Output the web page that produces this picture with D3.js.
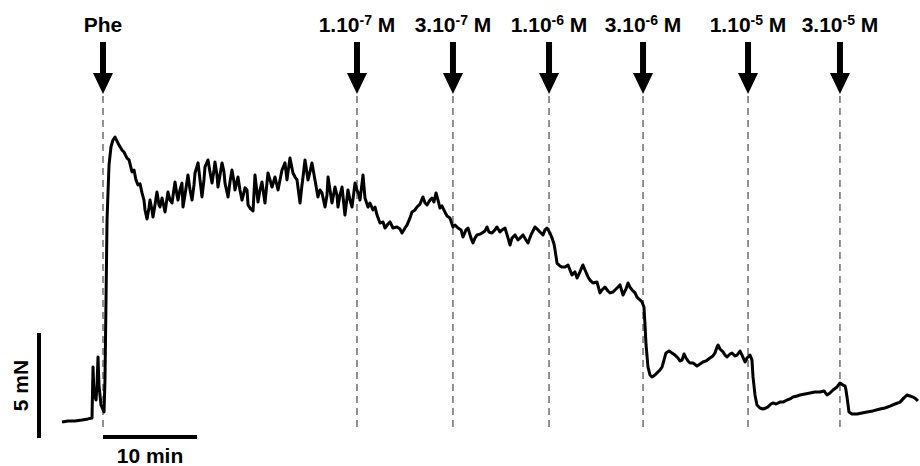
<!DOCTYPE html>
<html>
<head>
<meta charset="utf-8">
<script src="https://cdn.jsdelivr.net/npm/d3@7/dist/d3.min.js"></script>
<style>
  body { margin: 0; background: #fff; }
  svg { display: block; }
  text { font-family: "Liberation Sans", Arial, Helvetica, sans-serif; font-weight: bold; fill: #000; }
</style>
</head>
<body>
<script>
// isometric tension trace, time in min (0 = Phe), force in mN above baseline
const traceTime = [
  -4.36, -3.72, -2.98, -2.23, -1.60, -1.17, -1.06, -0.96, -0.74, -0.64, -0.53, -0.43, -0.21, 0.11, 0.21, 0.32, 0.43, 0.64, 0.85, 1.06,
  1.28, 1.49, 1.70, 2.02, 2.23, 2.55, 2.77, 3.09, 3.30, 3.51, 3.72,
  3.94, 4.15, 4.36, 4.47, 4.68, 4.89, 5.00, 5.21, 5.32, 5.53, 5.74, 5.96, 6.06, 6.28, 6.60, 6.91, 7.13, 7.34, 7.66, 7.87,
  7.98, 8.19, 8.40, 8.51, 8.72, 9.04, 9.26, 9.47, 9.68, 9.79, 10.11, 10.32, 10.53, 10.74, 10.85, 11.17, 11.38, 11.60, 11.81, 11.91,
  12.13, 12.23, 12.45, 12.66, 12.87, 12.98, 13.30, 13.51, 13.72, 13.94, 14.04, 14.36, 14.57, 14.79, 15.11, 15.32, 15.43, 15.64,
  15.96, 16.17, 16.49, 16.70, 16.91, 17.23, 17.55, 17.77, 17.98, 18.30, 18.62, 18.83, 19.04, 19.36, 19.57, 19.89, 20.21, 20.43, 20.64, 20.96,
  21.17, 21.28, 21.49, 21.81, 22.02, 22.23, 22.55, 22.87, 23.09, 23.30, 23.62, 23.83, 23.94, 24.15, 24.36, 24.68, 24.89, 25.00, 25.21, 25.43,
  25.74, 26.06, 26.28, 26.49, 26.81, 27.02, 27.23,
  27.34, 27.66, 27.87, 28.19, 28.40,
  28.72, 28.94, 29.15, 29.47, 29.79, 30.00, 30.32, 30.53, 30.85, 31.28, 31.60, 31.81, 32.13, 32.34, 32.66, 32.87, 33.19, 33.40, 33.72, 34.04,
  34.26, 34.47, 34.79, 35.00, 35.21, 35.43, 35.64, 35.85, 36.06, 36.38, 36.60, 36.91, 37.23, 37.45, 37.77, 38.09, 38.30, 38.62, 38.83, 39.15,
  39.36, 39.57, 39.79, 40.11, 40.32, 40.64, 40.85, 41.06, 41.38, 41.70, 41.91, 42.23, 42.45, 42.77, 43.09, 43.30, 43.51, 43.83, 44.15, 44.36,
  44.68, 45.00, 45.21, 45.53, 45.96, 46.28, 46.49, 46.81, 47.02, 47.23, 47.55, 47.77, 47.98, 48.09, 48.30, 48.62, 48.83, 49.15, 49.47, 49.68,
  49.89, 50.21, 50.43, 50.74, 51.06, 51.28, 51.60, 51.81, 52.13, 52.55, 52.87, 53.09, 53.40, 53.72, 53.94, 54.26, 54.47, 54.79, 55.00, 55.32,
  55.64, 55.85, 56.06, 56.28, 56.60, 56.81, 57.13, 57.34, 57.55, 57.66, 57.77, 57.98, 58.19, 58.40, 58.72, 58.94, 59.26, 59.47, 59.68, 59.89,
  60.21, 60.53, 60.85, 61.17, 61.38, 61.60, 61.81, 62.02, 62.23, 62.45, 62.77, 63.19, 63.51, 63.83, 64.15, 64.57, 64.89, 65.11, 65.32, 65.43,
  65.64, 65.96, 66.17, 66.38, 66.70, 66.91, 67.23, 67.45, 67.77, 67.98, 68.30, 68.51, 68.83, 69.04, 69.15, 69.36, 69.57, 69.89, 70.21, 70.53,
  70.74, 71.06, 71.28, 71.60, 72.02, 72.34, 72.77, 73.09, 73.40, 73.83, 74.15, 74.68, 75.21, 75.74, 76.28, 76.70, 77.02, 77.34, 77.66, 78.09,
  78.40, 78.72, 78.94, 79.04, 79.15, 79.36, 79.68, 80.21, 80.74, 81.28, 81.91, 82.66, 83.19, 83.72, 84.26, 84.79, 85.21, 85.53, 85.85, 86.17,
  86.49, 86.70
];
const traceForce = [
  -0.05, 0, 0, 0.05, 0.10, 0.14, 2.57, 1.24, 1.00, 1.71, 3.05, 1.71, 0.76, 0.43, 1.95, 5.76, 9.57, 12.19, 13.05, 13.38,
  13.52, 13.33, 13.14, 12.90, 12.81, 12.52, 12.43, 11.86, 11.95, 11.48, 11.24,
  11.29, 10.86, 10.52, 10.05, 9.62, 10.14, 10.52, 10.05, 9.71, 10.29, 10.90, 10.29, 10.19, 10.62, 9.95, 10.90, 10.52, 10.38, 11.38, 10.76,
  10.52, 11.00, 11.33, 10.19, 10.76, 11.71, 11.00, 10.52, 11.24, 11.81, 12.29, 11.48, 10.67, 11.48, 12.10, 12.43, 11.86, 11.33, 11.95, 12.33,
  11.71, 11.14, 11.71, 12.29, 11.86, 11.33, 10.67, 11.38, 11.95, 11.38, 11.00, 11.62, 11.00, 10.52, 11.10, 11.00, 10.29, 10.14,
  10.00, 11.71, 10.43, 11.00, 11.38, 10.38, 11.81, 11.48, 11.14, 11.62, 11.00, 11.48, 11.95, 12.29, 11.48, 12.52, 11.81, 11.62, 11.48, 10.38,
  11.24, 11.62, 12.43, 11.48, 11.86, 12.29, 11.48, 10.67, 11.00, 10.86, 10.19, 10.76, 11.62, 11.00, 10.38, 11.14, 10.76, 10.19, 10.76, 11.14,
  9.81, 11.00, 10.52, 10.19, 11.33, 11.00, 10.76,
  10.52, 11.71, 10.62, 10.19, 10.38,
  10.05, 10.19, 9.81, 9.43, 9.48, 9.19, 9.38, 9.48, 9.19, 9.24, 9.14, 8.95, 9.19, 9.33, 9.67, 9.95, 10.05, 10.19, 10.33, 10.67,
  10.38, 10.29, 10.52, 10.62, 10.43, 10.86, 10.52, 10.14, 10.24, 9.95, 9.76, 9.67, 9.24, 9.33, 9.19, 9.10, 8.76, 9.10, 9.19, 8.71,
  8.48, 8.71, 8.86, 8.90, 8.95, 9.05, 9.24, 9.00, 8.95, 9.10, 9.24, 9.00, 9.10, 9.19, 8.71, 8.38, 8.71, 8.86, 8.62, 8.71,
  8.86, 8.62, 8.48, 8.86, 9.24, 9.10, 9.00, 8.86, 9.10, 9.19, 8.95, 8.71, 8.43, 8.14, 7.52, 7.38, 7.33, 7.33, 7.43, 7.19,
  6.95, 7.10, 6.81, 7.10, 7.43, 7.19, 6.86, 6.71, 6.57, 6.62, 6.10, 6.24, 6.38, 6.19, 6.10, 6.14, 6.24, 6.38, 6.48, 6.00,
  6.29, 6.57, 6.38, 6.24, 6.10, 5.90, 5.76, 5.67, 5.43, 4.57, 3.62, 2.57, 2.19, 2.10, 2.19, 2.29, 2.43, 2.57, 2.90, 3.24,
  3.33, 3.24, 3.14, 3.00, 2.86, 2.90, 3.19, 3.00, 2.86, 2.76, 2.76, 2.62, 2.71, 2.81, 2.86, 3.00, 3.10, 3.24, 3.52, 3.62,
  3.43, 3.29, 3.14, 3.05, 3.19, 3.24, 3.10, 3.14, 3.33, 3.14, 2.81, 3.00, 3.14, 2.90, 2.10, 1.24, 0.76, 0.62, 0.57, 0.62,
  0.67, 0.81, 0.86, 0.81, 0.90, 0.90, 1.00, 1.05, 1.14, 1.19, 1.24, 1.29, 1.33, 1.38, 1.38, 1.43, 1.24, 1.33, 1.48, 1.62,
  1.81, 1.71, 1.67, 1.48, 1.14, 0.43, 0.33, 0.33, 0.38, 0.43, 0.48, 0.57, 0.62, 0.71, 0.81, 0.90, 1.10, 1.24, 1.19, 1.14,
  1.05, 0.95
];

// drug additions
const eventTimes = [0, 27.02, 37.23, 47.45, 57.45, 68.62, 78.40];
const eventBase = ["Phe", "1.10", "3.10", "1.10", "3.10", "1.10", "3.10"];
const eventExp = ["", "-7", "-7", "-6", "-6", "-5", "-5"];

// scale bars
const barTime = 10;   // min
const barForce = 5;   // mN

const width = 920;
const height = 466;

const x = d3.scaleLinear().domain([0, 10]).range([103, 197]);
const y = d3.scaleLinear().domain([0, 5]).range([421, 316]);

const svg = d3.select("body").append("svg")
    .attr("width", width)
    .attr("height", height);

const n = Math.min(traceTime.length, traceForce.length);
const trace = traceTime.slice(0, n).map((t, i) => [t, traceForce[i]]);

// dashed guides
svg.append("g")
    .selectAll("line")
    .data(eventTimes)
  .join("line")
    .attr("x1", d => x(d))
    .attr("x2", d => x(d))
    .attr("y1", 96)
    .attr("y2", 429)
    .attr("stroke", "#4a4a4a")
    .attr("stroke-width", 1.2)
    .attr("stroke-dasharray", "7,5");

// arrows
const arrows = svg.append("g")
    .selectAll("g")
    .data(eventTimes)
  .join("g")
    .attr("transform", d => "translate(" + x(d) + ",0)");

arrows.append("rect")
    .attr("x", -3)
    .attr("y", 42)
    .attr("width", 6)
    .attr("height", 33);

arrows.append("path")
    .attr("d", "M-10,73L10,73L0,94Z");

// labels
const labels = svg.append("g")
    .selectAll("text")
    .data(eventTimes)
  .join("text")
    .attr("x", d => x(d))
    .attr("y", 32)
    .attr("text-anchor", "middle")
    .attr("font-size", 21);

labels.append("tspan").text((d, i) => eventBase[i]);
labels.filter((d, i) => eventExp[i] !== "").each(function(d) {
    const i = eventTimes.indexOf(d);
    const t = d3.select(this);
    t.append("tspan").attr("font-size", 14).attr("dy", -7).text(eventExp[i]);
    t.append("tspan").attr("dy", 7).text("\u00A0M");
});

// trace
const line = d3.line()
    .x(d => x(d[0]))
    .y(d => y(d[1]));

svg.append("path")
    .datum(trace)
    .attr("d", line)
    .attr("fill", "none")
    .attr("stroke", "#000")
    .attr("stroke-width", 3)
    .attr("stroke-linejoin", "round");

// scale bars
const barPx = y(0) - y(barForce);
svg.append("rect")
    .attr("x", 37)
    .attr("y", 438 - barPx)
    .attr("width", 4)
    .attr("height", barPx);

svg.append("rect")
    .attr("x", x(0))
    .attr("y", 435)
    .attr("width", x(barTime) - x(0))
    .attr("height", 4);

svg.append("text")
    .attr("transform", "translate(28," + (438 - barPx / 2) + ") rotate(-90)")
    .attr("text-anchor", "middle")
    .attr("font-size", 21)
    .text(barForce + " mN");

svg.append("text")
    .attr("x", (x(0) + x(barTime)) / 2)
    .attr("y", 463)
    .attr("text-anchor", "middle")
    .attr("font-size", 21)
    .text(barTime + " min");
</script>
</body>
</html>
